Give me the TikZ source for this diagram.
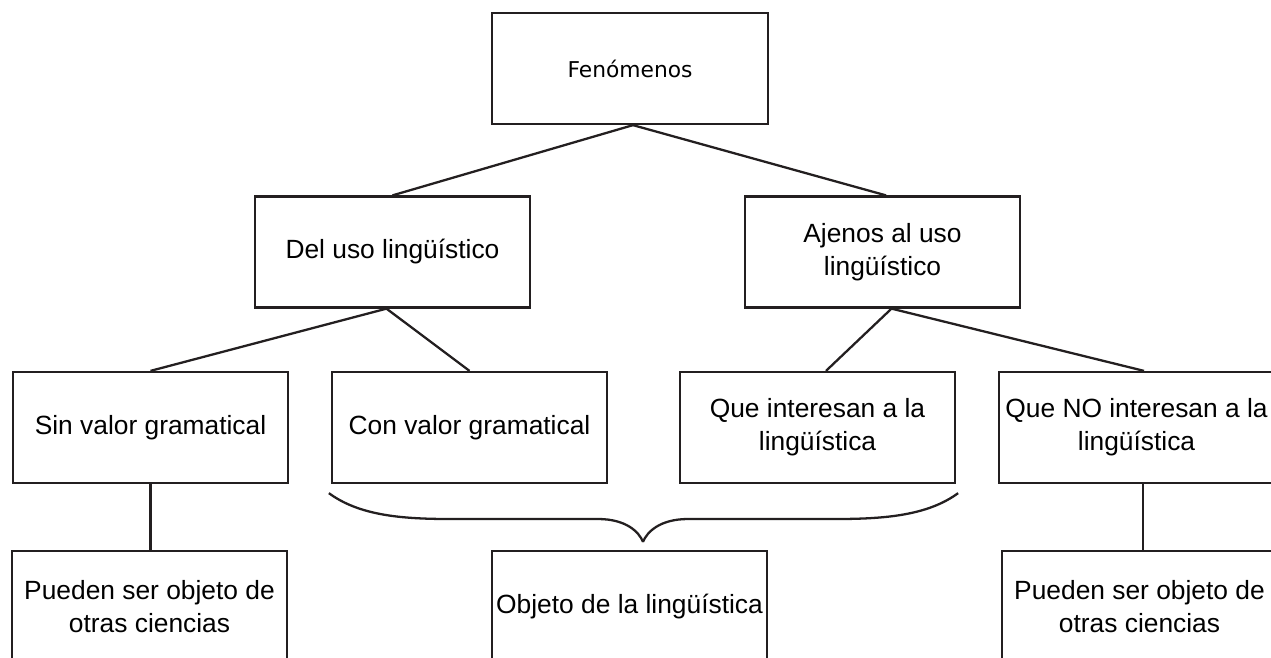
\documentclass[tikz,border=0pt]{standalone}
\usepackage{fontspec}
\setmainfont{Liberation Sans}
\newfontfamily\pixfont{DejaVu Sans}
\usepackage{xcolor}
\usepackage{tikz}
\usetikzlibrary{positioning}

\definecolor{linecol}{HTML}{231F20}

\begin{document}
\begin{tikzpicture}[x=0.02cm, y=-0.02cm, line width=1.3pt, draw=linecol,
    box/.style={draw=linecol, rectangle, inner sep=0pt, align=center,
        minimum width=5.5cm, minimum height=2.22cm,
        font=\fontsize{15}{18.8}\selectfont}]
    \useasboundingbox (0,0) rectangle (1271,657);

    % Nodes
    \node[box, minimum width=5.52cm, font=\pixfont\fontsize{12.4}{15}\selectfont] (fen) at (630,68.5) {Fenómenos};
    \node[box] (del) at (392.5,252) {Del uso lingüístico};
    \node[box] (ajenos) at (882.5,252) {Ajenos al uso\\lingüístico};
    \node[box] (sin) at (150.5,427.5) {Sin valor gramatical};
    \node[box] (con) at (469.5,427.5) {Con valor gramatical};
    \node[box] (que) at (817.5,427.5) {Que interesan a la\\lingüística};
    \node[box] (queno) at (1136.5,427.5) {Que NO interesan a la\\lingüística};
    \node[box] (otrasl) at (149.5,606.5) {Pueden ser objeto de\\otras ciencias};
    \node[box] (objeto) at (629.5,606.5) {Objeto de la lingüística};
    \node[box] (otrasr) at (1139.5,606.5) {Pueden ser objeto de\\otras ciencias};

    % Connections
    \draw ([xshift=.06cm]fen.south) -- (del.north);
    \draw ([xshift=.06cm]fen.south) -- ([xshift=.07cm]ajenos.north);
    \draw ([xshift=-.12cm]del.south) -- (sin.north);
    \draw ([xshift=-.12cm]del.south) -- (con.north);
    \draw ([xshift=.18cm]ajenos.south) -- ([xshift=.17cm]que.north);
    \draw ([xshift=.18cm]ajenos.south) -- ([xshift=.15cm]queno.north);
    \draw (sin.south) -- (sin.south |- otrasl.north);
    \draw ([xshift=.13cm]queno.south) -- ([xshift=.13cm]queno.south |- otrasr.north);

    % Brace
    \coordinate (bl) at ([xshift=-.04cm, yshift=-.18cm]con.south west);
    \coordinate (br) at ([xshift=.04cm, yshift=-.18cm]que.south east);
    \coordinate (tip) at ([xshift=.27cm, yshift=.16cm]objeto.north);
    \draw (bl) .. controls +(30,22) and +(-50,0) .. (450,519) -- (598,519)
        .. controls +(28,0) and +(-4,-10) .. (tip);
    \draw (br) .. controls +(-30,22) and +(50,0) .. (836,519) -- (688,519)
        .. controls +(-28,0) and +(4,-10) .. (tip);
\end{tikzpicture}
\end{document}
